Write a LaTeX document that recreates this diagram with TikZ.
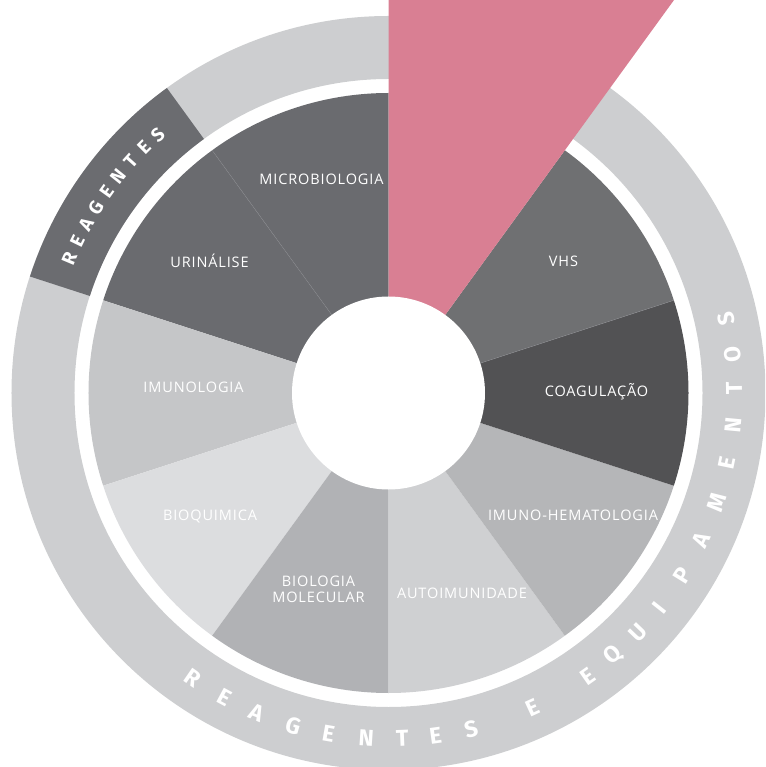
\documentclass[tikz,border=0pt]{standalone}
\usepackage{fontspec}
\setmainfont{Open Sans}
\newfontfamily\labfont{Open Sans}[LetterSpace=6]
\newfontfamily\ringfont{Fira Sans}
\newcommand{\innersz}{\ringfont\bfseries\fontsize{19}{19}\selectfont}
\newcommand{\outersz}{\ringfont\bfseries\fontsize{23}{23}\selectfont}
\definecolor{ringgrey}{HTML}{CDCED0}
\definecolor{reagdark}{HTML}{6B6C70}
\definecolor{microc}{HTML}{6A6B6F}
\definecolor{imunoc}{HTML}{C5C6C8}
\definecolor{bioqc}{HTML}{DCDDDF}
\definecolor{biomolc}{HTML}{B1B2B5}
\definecolor{autoc}{HTML}{CFD0D2}
\definecolor{imhemc}{HTML}{B5B6B8}
\definecolor{coagc}{HTML}{525254}
\definecolor{vhsc}{HTML}{6F7072}
\definecolor{pinkc}{HTML}{D97F93}
\definecolor{seamc}{HTML}{85868A}
\tikzset{
  lab/.style={text=white, font=\labfont\fontsize{14.5}{16}\selectfont, inner sep=0pt, anchor=base},
  innerlet/.style={text=white, font=\innersz, inner sep=0pt, anchor=center},
  outerlet/.style={text=white, font=\outersz, inner sep=0pt, anchor=center},
  seam/.style={draw=seamc, line width=0.4pt}
}
\begin{document}
\begin{tikzpicture}[x=1pt,y=1pt]
\useasboundingbox (-388.5,-374) rectangle (376.5,393);
\clip (-388.5,-374) rectangle (376.5,393);
% outer ring
\fill[ringgrey, even odd rule] (0,0) circle (377) (0,0) circle (314);
\fill[reagdark] (126:314) arc (126:162:314) -- (162:377) arc (162:126:377) -- cycle;
% inner segments
\foreach \a/\c in {90/microc, 126/microc, 162/imunoc, 198/bioqc, 234/biomolc, 270/autoc, 306/imhemc, 342/coagc, 18/vhsc}
  \fill[\c] (0,0) -- (\a:300) arc (\a:\a+36:300) -- cycle;
\draw[seam] (126:96) -- (126:300);
\draw[seam] (18:96) -- (18:300);
% pink slice
\fill[pinkc] (0,0) -- (90:700) -- (54:700) -- cycle;
% hole
\fill[white] (0,0) circle (96.5);
% labels
\node[lab] (micro) at (-67,208) {MICROBIOLOGIA};
\node[lab] (urin) at (-179,125) {URINÁLISE};
\node[lab] (imuno) at (-195,0) {IMUNOLOGIA};
\node[lab] (bioq) at (-178.5,-127) {BIOQUIMICA};
\node[lab, align=center] (biomol) at (-70,-209) {BIOLOGIA\\MOLECULAR};
\node[lab] (auto) at (73.5,-205) {AUTOIMUNIDADE};
\node[lab] (imhem) at (184.5,-127) {IMUNO-HEMATOLOGIA};
\node[lab] (coag) at (208,-4) {COAGULAÇÃO};
\node[lab] (vhs) at (175,126) {VHS};
% REAGENTES on dark arc
\foreach \ch [count=\i] in {R,E,A,G,E,N,T,E,S}
  \node[innerlet, rotate={157.2-(\i-1)*3.19-90}] (r\i) at ({157.2-(\i-1)*3.19}:346) {\innersz\ch};
% REAGENTES E EQUIPAMENTOS on outer ring
\foreach \ch/\ang [count=\i] in {R/235.5, E/241.7, A/247.6, G/254.0, E/260.0, N/266.3, T/272.3, E/277.8, S/283.8, E/294.7, E/305.1, Q/310.6, U/316.2, I/321.6, P/328.2, A/334.8, M/341.6, E/348.3, N/354.6, T/360.8, O/366.4, S/372.4}
  \node[outerlet, rotate=\ang+90] (o\i) at (\ang:346) {\outersz\ch};
\end{tikzpicture}
\end{document}
